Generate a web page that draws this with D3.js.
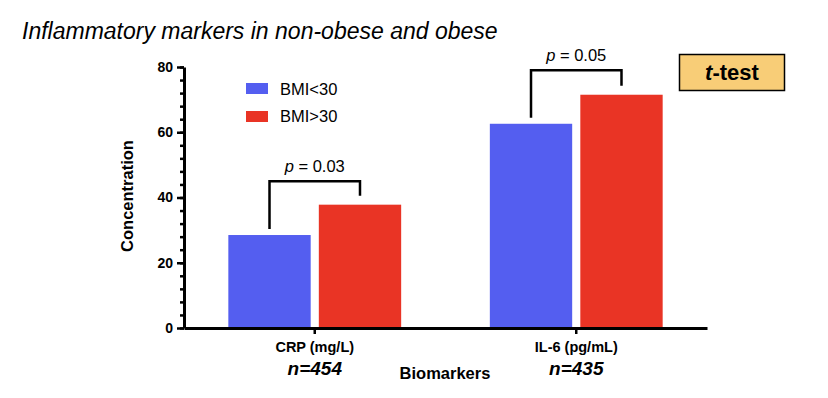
<!DOCTYPE html>
<html>
<head>
<meta charset="utf-8">
<script src="https://cdn.jsdelivr.net/npm/d3@7"></script>
<style>
body{margin:0;background:#fff}
text{font-family:"Liberation Sans",Arial,sans-serif}
</style>
</head>
<body>
<div id="chart"></div>
<script>
// data
var categories=["CRP (mg/L)","IL-6 (pg/mL)"];
var nLabels=["n=454","n=435"];
var groups=["BMI<30","BMI>30"];
var bmiUnder30=[28.5,62.6];
var bmiOver30=[37.8,71.5];
var pValues=["0.03","0.05"];
var bracketTop=[45,79];
var yTicks=[0,20,40,60,80];

var colors=["#545ef0","#e93425"];
var width=828,height=398;

var svg=d3.select("#chart").append("svg")
	.attr("width",width)
	.attr("height",height);

var x=d3.scaleBand().domain(categories).range([184,707]).paddingInner(0).paddingOuter(0);
var y=d3.scaleLinear().domain([0,80]).range([328,67]);
var x1=d3.scaleBand().domain(groups).range([0,x.bandwidth()]).paddingInner(0.09).paddingOuter(0.49);

// title
svg.append("text")
	.attr("x",22).attr("y",39)
	.style("font-size","23px")
	.style("font-style","italic")
	.text("Inflammatory markers in non-obese and obese");

// bars
var values=[bmiUnder30,bmiOver30];
groups.forEach(function(g,gi){
	svg.selectAll(".bar"+gi)
		.data(categories)
		.enter().append("rect")
		.attr("x",function(d){return x(d)+x1(g);})
		.attr("y",function(d,i){return y(values[gi][i]);})
		.attr("width",x1.bandwidth())
		.attr("height",function(d,i){return y(0)-y(values[gi][i]);})
		.style("fill",colors[gi]);
});

// y axis with minor ticks
svg.append("g")
	.attr("transform","translate(184,0)")
	.call(d3.axisLeft(y).tickValues(d3.range(0,81,4)).tickSize(4).tickFormat(""))
	.call(function(g){g.select(".domain").remove();g.selectAll("line").style("stroke","#000").style("stroke-width",2.5);});
var yAxis=svg.append("g")
	.attr("transform","translate(184,0)")
	.call(d3.axisLeft(y).tickValues(yTicks).tickSize(7).tickSizeOuter(0).tickPadding(4));
yAxis.select(".domain").style("stroke-width",3);
yAxis.selectAll("line").style("stroke-width",2.5);
yAxis.selectAll("text")
	.style("font-size","14px").style("font-weight","bold")
	.style("font-family","'Liberation Sans',Arial,sans-serif");

// x axis
var xAxis=svg.append("g")
	.attr("transform","translate(0,328)")
	.call(d3.axisBottom(x).tickSize(6).tickSizeOuter(0).tickPadding(8));
xAxis.select(".domain").style("stroke-width",3);
xAxis.selectAll("line").style("stroke-width",2.5);
xAxis.selectAll("text")
	.style("font-size","14.5px").style("font-weight","bold")
	.style("font-family","'Liberation Sans',Arial,sans-serif");

svg.selectAll(".nlab")
	.data(categories)
	.enter().append("text")
	.attr("x",function(d){return x(d)+x.bandwidth()/2;})
	.attr("y",375)
	.attr("text-anchor","middle")
	.style("font-size","19px").style("font-weight","bold").style("font-style","italic")
	.text(function(d,i){return nLabels[i];});

svg.append("text")
	.attr("x",445).attr("y",379)
	.attr("text-anchor","middle")
	.style("font-size","16.5px").style("font-weight","bold")
	.text("Biomarkers");

svg.append("text")
	.attr("transform","translate(133,196) rotate(-90)")
	.attr("text-anchor","middle")
	.style("font-size","16.5px").style("font-weight","bold")
	.text("Concentration");

// significance brackets
categories.forEach(function(c,i){
	var xa=x(c)+x1(groups[0])+x1.bandwidth()/2;
	var xb=x(c)+x1(groups[1])+x1.bandwidth()/2;
	var top=y(bracketTop[i]);
	var path=d3.path();
	path.moveTo(xa,y(bmiUnder30[i])-6);
	path.lineTo(xa,top);
	path.lineTo(xb,top);
	path.lineTo(xb,y(bmiOver30[i])-9);
	svg.append("path").attr("d",path.toString())
		.style("fill","none").style("stroke","#000").style("stroke-width",2.5);
	var t=svg.append("text")
		.attr("x",(xa+xb)/2).attr("y",top-9)
		.attr("text-anchor","middle")
		.style("font-size","16.5px");
	t.append("tspan").style("font-style","italic").text("p");
	t.append("tspan").text(" = "+pValues[i]);
});

// legend
groups.forEach(function(g,i){
	svg.append("rect")
		.attr("x",246).attr("y",83+i*28)
		.attr("width",22).attr("height",11)
		.style("fill",colors[i]);
	svg.append("text")
		.attr("x",280).attr("y",95+i*27)
		.style("font-size","16.5px")
		.text(g);
});

// t-test box
svg.append("rect")
	.attr("x",679.5).attr("y",54.5)
	.attr("width",105).attr("height",36)
	.style("fill","#f8cd77").style("stroke","#000").style("stroke-width",1.5);
var tt=svg.append("text")
	.attr("x",732).attr("y",80)
	.attr("text-anchor","middle")
	.style("font-size","22px").style("font-weight","bold");
tt.append("tspan").style("font-style","italic").text("t");
tt.append("tspan").text("-test");
</script>
</body>
</html>
